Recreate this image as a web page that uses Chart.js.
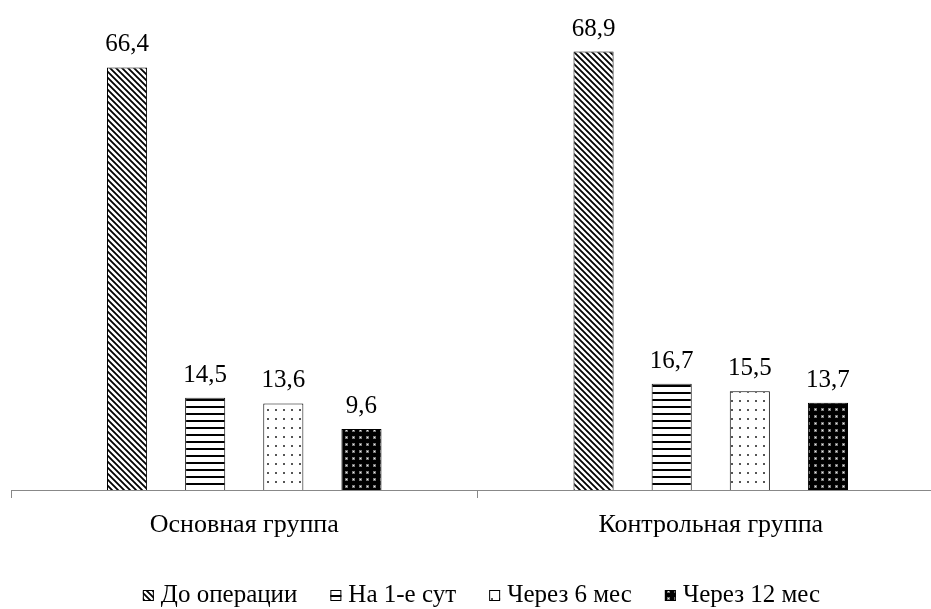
<!DOCTYPE html>
<html>
<head>
<meta charset="utf-8">
<script src="https://cdn.jsdelivr.net/npm/chart.js@4.4.0/dist/chart.umd.min.js"></script>
<style>
    html, body { margin: 0; padding: 0; background: #fff; overflow: hidden; }
    #wrap { position: relative; width: 944px; height: 609px; }
</style>
</head>
<body>
<div id="wrap"><canvas id="chart"></canvas></div>
<script>
const categories = ['Основная группа', 'Контрольная группа'];
const seriesNames = ['До операции', 'На 1-е сут', 'Через 6 мес', 'Через 12 мес'];
const beforeOp = [66.4, 68.9];
const day1 = [14.5, 16.7];
const month6 = [13.6, 15.5];
const month12 = [9.6, 13.7];

const FONT = '"Liberation Serif", "Times New Roman", serif';

// small tiles used as bar fills
function makePattern(w, h, draw) {
    const c = document.createElement('canvas');
    c.width = w;
    c.height = h;
    const g = c.getContext('2d');
    draw(g, w, h);
    return g.createPattern(c, 'repeat');
}

const diagonal = makePattern(6, 6, (g, w, h) => {
    g.fillStyle = '#fff';
    g.fillRect(0, 0, w, h);
    g.strokeStyle = '#000';
    g.lineWidth = 1.8;
    g.beginPath();
    g.moveTo(-1, -1); g.lineTo(w + 1, h + 1);
    g.moveTo(-1, h - 1); g.lineTo(1, h + 1);
    g.moveTo(w - 1, -1); g.lineTo(w + 1, 1);
    g.stroke();
});

const horizontal = makePattern(8, 7, (g, w, h) => {
    g.fillStyle = '#fff';
    g.fillRect(0, 0, w, h);
    g.fillStyle = '#000';
    g.fillRect(0, 0, w, 2);
});

const dotsLight = makePattern(8, 9, (g, w, h) => {
    g.fillStyle = '#fff';
    g.fillRect(0, 0, w, h);
    g.fillStyle = '#555';
    g.fillRect(3, 4, 2, 2);
});

const dotsDark = makePattern(7, 7, (g, w, h) => {
    g.fillStyle = '#000';
    g.fillRect(0, 0, w, h);
    g.fillStyle = '#777';
    g.fillRect(2, 2, 3, 3);
    g.fillStyle = '#eee';
    g.fillRect(3, 3, 1, 1);
});

const seriesData = [beforeOp, day1, month6, month12];
const fills = [diagonal, horizontal, dotsLight, dotsDark];

const valueLabels = {
    id: 'valueLabels',
    afterDatasetsDraw(chart) {
        const ctx = chart.ctx;
        ctx.save();
        ctx.font = '25px ' + FONT;
        ctx.fillStyle = '#000';
        ctx.textAlign = 'center';
        ctx.textBaseline = 'alphabetic';
        chart.data.datasets.forEach((ds, i) => {
            chart.getDatasetMeta(i).data.forEach((bar, j) => {
                const txt = ds.data[j].toFixed(1).replace('.', ',');
                ctx.fillText(txt, bar.x, bar.y - 16);
            });
        });
        ctx.restore();
    }
};

// legend drawn by hand so the box/text spacing matches
const bottomLegend = {
    id: 'bottomLegend',
    afterDraw(chart) {
        const ctx = chart.ctx;
        const box = 11, gapText = 7, gapItem = 33;
        ctx.save();
        ctx.font = '25px ' + FONT;
        const widths = seriesNames.map(n => box + gapText + ctx.measureText(n).width);
        const total = widths.reduce((a, b) => a + b, 0) + gapItem * (widths.length - 1);
        const centre = (chart.chartArea.left + chart.chartArea.right) / 2 + 4;
        let x = centre - total / 2;
        const baseY = 602;
        chart.data.datasets.forEach((ds, i) => {
            ctx.fillStyle = ds.backgroundColor;
            ctx.fillRect(x, baseY - 12, box, box);
            ctx.strokeStyle = '#000';
            ctx.lineWidth = 1;
            ctx.strokeRect(x + 0.5, baseY - 11.5, box - 1, box - 1);
            ctx.fillStyle = '#000';
            ctx.textAlign = 'left';
            ctx.textBaseline = 'alphabetic';
            ctx.fillText(ds.label, x + box + gapText, baseY);
            x += widths[i] + gapItem;
        });
        ctx.restore();
    }
};

new Chart(document.getElementById('chart'), {
    type: 'bar',
    data: {
        labels: categories,
        datasets: seriesNames.map((name, i) => ({
            label: name,
            data: seriesData[i],
            backgroundColor: fills[i],
            borderColor: '#000',
            borderWidth: 1,
            categoryPercentage: 0.67,
            barPercentage: 0.513
        }))
    },
    options: {
        responsive: true,
        maintainAspectRatio: false,
        animation: false,
        layout: { padding: { left: 11, right: 0, top: 0, bottom: 60 } },
        scales: {
            x: {
                grid: { display: true, drawOnChartArea: false, drawTicks: true, tickLength: 8, color: '#888', offset: true },
                border: { display: true, color: '#888', width: 1 },
                ticks: { color: '#000', padding: 12, font: { family: FONT, size: 26 } },
                afterFit: (scale) => { scale.height = 59; }
            },
            y: {
                display: false,
                min: 0,
                max: 77
            }
        },
        plugins: {
            legend: { display: false },
            tooltip: { enabled: false }
        }
    },
    plugins: [valueLabels, bottomLegend]
});
</script>
</body>
</html>
